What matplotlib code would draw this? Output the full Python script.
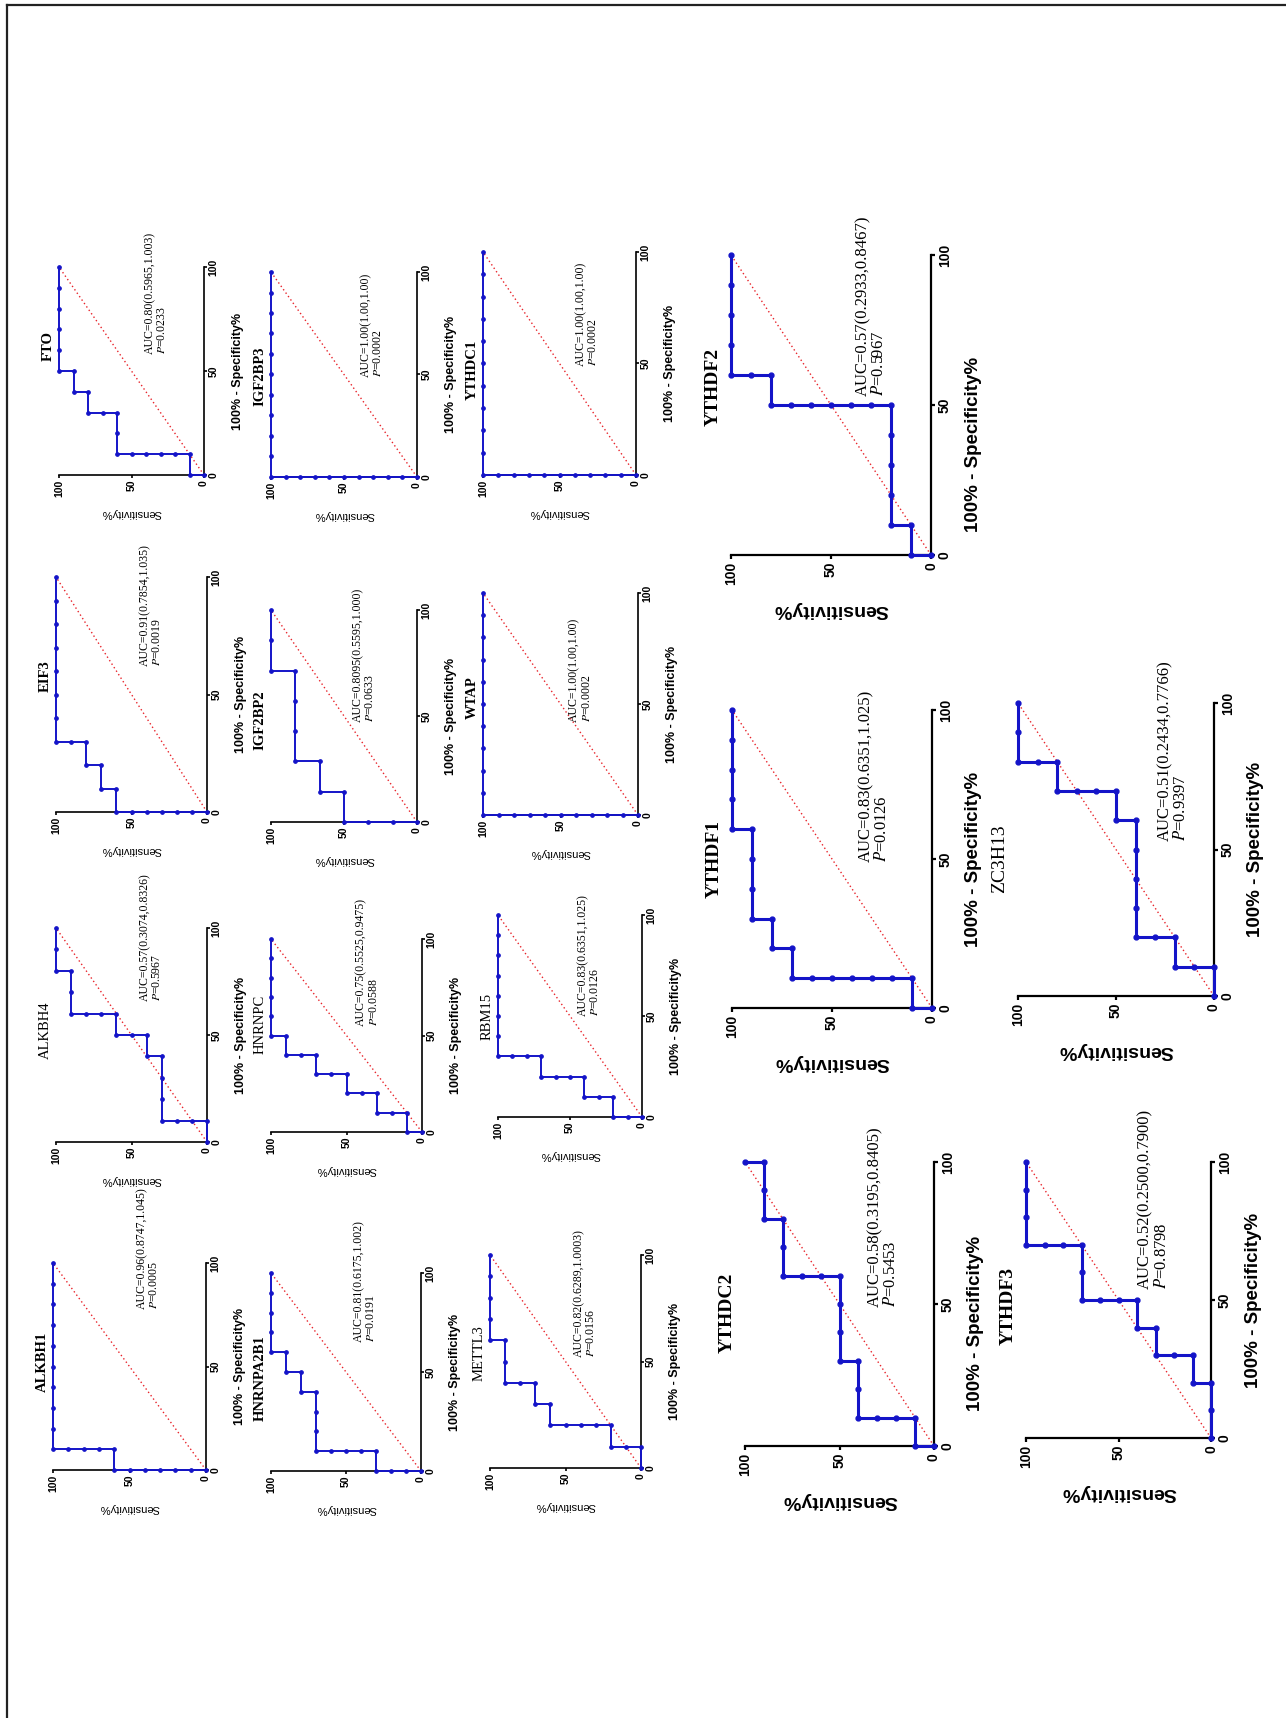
import matplotlib
matplotlib.use("Agg")
import matplotlib.pyplot as plt
from matplotlib.lines import Line2D

plt.rcParams['mathtext.fontset'] = 'stix'

W, H = 1286, 1718
BLUE = '#1414c8'
RED = '#e8232a'

# sensitivity % and (100% - specificity %) for each ROC step
fto_sens = [0, 10, 10, 20, 30, 40, 50, 60, 60, 60, 70, 80, 80, 90, 90, 100, 100, 100, 100, 100, 100]
fto_fpr = [0, 0, 10, 10, 10, 10, 10, 10, 20, 30, 30, 30, 40, 40, 50, 50, 60, 70, 80, 90, 100]

eif3_sens = [0, 10, 20, 30, 40, 50, 60, 60, 70, 70, 80, 80, 90, 100, 100, 100, 100, 100, 100, 100, 100]
eif3_fpr = [0, 0, 0, 0, 0, 0, 0, 10, 10, 20, 20, 30, 30, 30, 40, 50, 60, 70, 80, 90, 100]

alkbh4_sens = [0, 0, 10, 20, 30, 30, 30, 30, 40, 40, 50, 60, 60, 70, 80, 90, 90, 90, 100, 100, 100]
alkbh4_fpr = [0, 10, 10, 10, 10, 20, 30, 40, 40, 50, 50, 50, 60, 60, 60, 60, 70, 80, 80, 90, 100]

alkbh1_sens = [0, 10, 20, 30, 40, 50, 60, 60, 70, 80, 90, 100, 100, 100, 100, 100, 100, 100, 100, 100, 100]
alkbh1_fpr = [0, 0, 0, 0, 0, 0, 0, 10, 10, 10, 10, 10, 20, 30, 40, 50, 60, 70, 80, 90, 100]

igf2bp3_sens = [0, 10, 20, 30, 40, 50, 60, 70, 80, 90, 100, 100, 100, 100, 100, 100, 100, 100, 100, 100, 100]
igf2bp3_fpr = [0, 0, 0, 0, 0, 0, 0, 0, 0, 0, 0, 10, 20, 30, 40, 50, 60, 70, 80, 90, 100]

igf2bp2_sens = [0, 16.67, 33.33, 50, 50, 66.67, 66.67, 83.33, 83.33, 83.33, 83.33, 100, 100, 100]
igf2bp2_fpr = [0, 0, 0, 0, 14.29, 14.29, 28.57, 28.57, 42.86, 57.14, 71.43, 71.43, 85.71, 100]

hnrnpc_sens = [0, 10, 10, 20, 30, 30, 40, 50, 50, 60, 70, 70, 80, 90, 90, 100, 100, 100, 100, 100, 100]
hnrnpc_fpr = [0, 0, 10, 10, 10, 20, 20, 20, 30, 30, 30, 40, 40, 40, 50, 50, 60, 70, 80, 90, 100]

hnrnpa2b1_sens = [0, 10, 20, 30, 30, 40, 50, 60, 70, 70, 70, 70, 80, 80, 90, 90, 100, 100, 100, 100, 100]
hnrnpa2b1_fpr = [0, 0, 0, 0, 10, 10, 10, 10, 10, 20, 30, 40, 40, 50, 50, 60, 60, 70, 80, 90, 100]

ythdc1_sens = [0, 10, 20, 30, 40, 50, 60, 70, 80, 90, 100, 100, 100, 100, 100, 100, 100, 100, 100, 100, 100]
ythdc1_fpr = [0, 0, 0, 0, 0, 0, 0, 0, 0, 0, 0, 10, 20, 30, 40, 50, 60, 70, 80, 90, 100]

wtap_sens = [0, 10, 20, 30, 40, 50, 60, 70, 80, 90, 100, 100, 100, 100, 100, 100, 100, 100, 100, 100, 100]
wtap_fpr = [0, 0, 0, 0, 0, 0, 0, 0, 0, 0, 0, 10, 20, 30, 40, 50, 60, 70, 80, 90, 100]

rbm15_sens = [0, 10, 20, 20, 30, 40, 40, 50, 60, 70, 70, 80, 90, 100, 100, 100, 100, 100, 100, 100, 100]
rbm15_fpr = [0, 0, 0, 10, 10, 10, 20, 20, 20, 20, 30, 30, 30, 30, 40, 50, 60, 70, 80, 90, 100]

mettl3_sens = [0, 0, 10, 20, 20, 30, 40, 50, 60, 60, 70, 70, 80, 90, 90, 90, 100, 100, 100, 100, 100]
mettl3_fpr = [0, 10, 10, 10, 20, 20, 20, 20, 20, 30, 30, 40, 40, 40, 50, 60, 60, 70, 80, 90, 100]

ythdf2_sens = [0, 10, 10, 20, 20, 20, 20, 20, 30, 40, 50, 60, 70, 80, 80, 90, 100, 100, 100, 100, 100]
ythdf2_fpr = [0, 0, 10, 10, 20, 30, 40, 50, 50, 50, 50, 50, 50, 50, 60, 60, 60, 70, 80, 90, 100]

ythdf1_sens = [0, 10, 10, 20, 30, 40, 50, 60, 70, 70, 80, 80, 90, 90, 90, 90, 100, 100, 100, 100, 100]
ythdf1_fpr = [0, 0, 10, 10, 10, 10, 10, 10, 10, 20, 20, 30, 30, 40, 50, 60, 60, 70, 80, 90, 100]

zc3h13_sens = [0, 0, 10, 20, 20, 30, 40, 40, 40, 40, 40, 50, 50, 60, 70, 80, 80, 90, 100, 100, 100]
zc3h13_fpr = [0, 10, 10, 10, 20, 20, 20, 30, 40, 50, 60, 60, 70, 70, 70, 70, 80, 80, 80, 90, 100]

ythdc2_sens = [0, 10, 10, 20, 30, 40, 40, 40, 50, 50, 50, 50, 60, 70, 80, 80, 80, 90, 90, 90, 100]
ythdc2_fpr = [0, 0, 10, 10, 10, 10, 20, 30, 30, 40, 50, 60, 60, 60, 60, 70, 80, 80, 90, 100, 100]

ythdf3_sens = [0, 0, 0, 10, 10, 20, 30, 30, 40, 40, 50, 60, 70, 70, 70, 80, 90, 100, 100, 100, 100]
ythdf3_fpr = [0, 10, 20, 20, 30, 30, 30, 40, 40, 50, 50, 50, 50, 60, 70, 70, 70, 70, 80, 90, 100]

gene_names = ['FTO', 'EIF3', 'ALKBH4', 'ALKBH1', 'IGF2BP3', 'IGF2BP2', 'HNRNPC', 'HNRNPA2B1',
              'YTHDC1', 'WTAP', 'RBM15', 'METTL3', 'YTHDF2', 'YTHDF1', 'ZC3H13', 'YTHDC2', 'YTHDF3']
auc_labels = ['AUC=0.80(0.5965,1.003)', 'AUC=0.91(0.7854,1.035)', 'AUC=0.57(0.3074,0.8326)',
              'AUC=0.96(0.8747,1.045)', 'AUC=1.00(1.00,1.00)', 'AUC=0.8095(0.5595,1.000)',
              'AUC=0.75(0.5525,0.9475)', 'AUC=0.81(0.6175,1.002)', 'AUC=1.00(1.00,1.00)',
              'AUC=1.00(1.00,1.00)', 'AUC=0.83(0.6351,1.025)', 'AUC=0.82(0.6289,1.0003)',
              'AUC=0.57(0.2933,0.8467)', 'AUC=0.83(0.6351,1.025)', 'AUC=0.51(0.2434,0.7766)',
              'AUC=0.58(0.3195,0.8405)', 'AUC=0.52(0.2500,0.7900)']
p_labels = ['0.0233', '0.0019', '0.5967', '0.0005', '0.0002', '0.0633', '0.0588', '0.0191',
            '0.0002', '0.0002', '0.0126', '0.0156', '0.5967', '0.0126', '0.9397', '0.5453', '0.8798']

curves = [(fto_sens, fto_fpr), (eif3_sens, eif3_fpr), (alkbh4_sens, alkbh4_fpr),
          (alkbh1_sens, alkbh1_fpr), (igf2bp3_sens, igf2bp3_fpr), (igf2bp2_sens, igf2bp2_fpr),
          (hnrnpc_sens, hnrnpc_fpr), (hnrnpa2b1_sens, hnrnpa2b1_fpr), (ythdc1_sens, ythdc1_fpr),
          (wtap_sens, wtap_fpr), (rbm15_sens, rbm15_fpr), (mettl3_sens, mettl3_fpr),
          (ythdf2_sens, ythdf2_fpr), (ythdf1_sens, ythdf1_fpr), (zc3h13_sens, zc3h13_fpr),
          (ythdc2_sens, ythdc2_fpr), (ythdf3_sens, ythdf3_fpr)]

# layout, pixels of the whole page: (x of Sens 100, x of Sens 0, y of axis 0, y of axis 100)
boxes = [(59, 204, 475, 267), (56, 207, 812, 577), (56, 207, 1142, 928), (53, 206, 1470, 1263),
         (271, 417, 477, 272), (271, 417, 822, 610), (271, 422, 1132, 939), (271, 421, 1471, 1273),
         (483, 636, 475, 252), (483, 638, 815, 593), (498, 642, 1117, 915), (490, 641, 1468, 1255),
         (731, 931, 555, 255), (732, 932, 1008, 710), (1018, 1214, 996, 703),
         (745, 934, 1446, 1162), (1026, 1211, 1438, 1162)]
auc_at = [(33, 58), (37, 62), (37, 66), (38, 78), (31, 49), (36, 47), (36, 55), (37, 65),
          (32, 49), (37, 42), (37, 50), (37, 52), (30, 53), (29, 49), (21, 53), (27, 49), (31, 54)]
title_y = [0.62, 0.58, 0.52, 0.52, 0.49, 0.48, 0.56, 0.47, 0.47, 0.53, 0.5, 0.54,
           0.56, 0.5, 0.47, 0.47, 0.48]
spec_y = [0.5] * 12 + [0.37, 0.5, 0.5, 0.43, 0.5]
light_titles = ['ALKBH4', 'HNRNPC', 'RBM15', 'METTL3', 'ZC3H13']

fig = plt.figure(figsize=(W / 100, H / 100), dpi=100)
fig.add_artist(Line2D([7 / W, 1], [1 - 5 / H, 1 - 5 / H], color='#222222', lw=1.6))
fig.add_artist(Line2D([7 / W, 7 / W], [0, 1 - 5 / H], color='#222222', lw=1.6))

for i, name in enumerate(gene_names):
    sens, fpr = curves[i]
    left, right, bottom, top = boxes[i]
    big = i >= 12
    ax = fig.add_axes([left / W, 1 - bottom / H, (right - left) / W, (bottom - top) / H])
    ax.patch.set_alpha(0)
    ax.set_xlim(100, 0)
    ax.set_ylim(0, 100)
    ax.spines['top'].set_visible(False)
    ax.spines['left'].set_visible(False)
    lw_ax = 1.6 if big else 1.2
    ax.spines['bottom'].set_linewidth(lw_ax)
    ax.spines['right'].set_linewidth(lw_ax)
    ax.yaxis.tick_right()
    ax.set_xticks([0, 50, 100])
    ax.set_yticks([0, 50, 100])
    ax.tick_params(direction='out', length=3 if big else 2, width=lw_ax, pad=2 if big else 1.5,
                   labelsize=10 if big else 7.5)
    for lab in ax.get_xticklabels() + ax.get_yticklabels():
        lab.set_rotation(90)
        lab.set_fontweight('bold')
        lab.set_family('Liberation Sans')
    for lab in ax.get_yticklabels():
        lab.set_verticalalignment('center')

    ax.plot([0, 100], [0, 100], color=RED, lw=1.0, ls=(0, (1, 2)))
    ax.plot(sens, fpr, color=BLUE, lw=2.2 if big else 1.4, marker='o',
            ms=3.5 if big else 2.4, clip_on=False, zorder=3)

    ax.annotate(name, xy=(0, title_y[i]), xycoords='axes fraction',
                xytext=(-18 if big else -11, 0), textcoords='offset pixels',
                rotation=90, ha='center', va='center', family='Liberation Serif',
                fontweight='normal' if name in light_titles else 'bold',
                fontsize=14 if big else 10.5)
    ax.annotate('Sensitivity%', xy=(0.5, 0), xycoords='axes fraction',
                xytext=(0, -54 if big else -38), textcoords='offset pixels',
                rotation=180, ha='center', va='center', family='Liberation Sans',
                fontweight='bold' if big else 'normal', fontsize=14 if big else 8)
    ax.annotate('100% - Specificity%', xy=(1, spec_y[i]), xycoords='axes fraction',
                xytext=(42 if big else 34, 0), textcoords='offset pixels',
                rotation=90, ha='center', va='center', family='Liberation Sans',
                fontweight='bold', fontsize=13.5 if big else 9)
    ax.text(auc_at[i][0], auc_at[i][1], auc_labels[i] + '\n' + r'$\it{P}$=' + p_labels[i],
            rotation=90, ha='center', va='bottom', multialignment='left',
            family='Liberation Serif', fontsize=12 if big else 8.5, clip_on=False,
            linespacing=1.0)

fig.savefig('out.png', dpi=100)
